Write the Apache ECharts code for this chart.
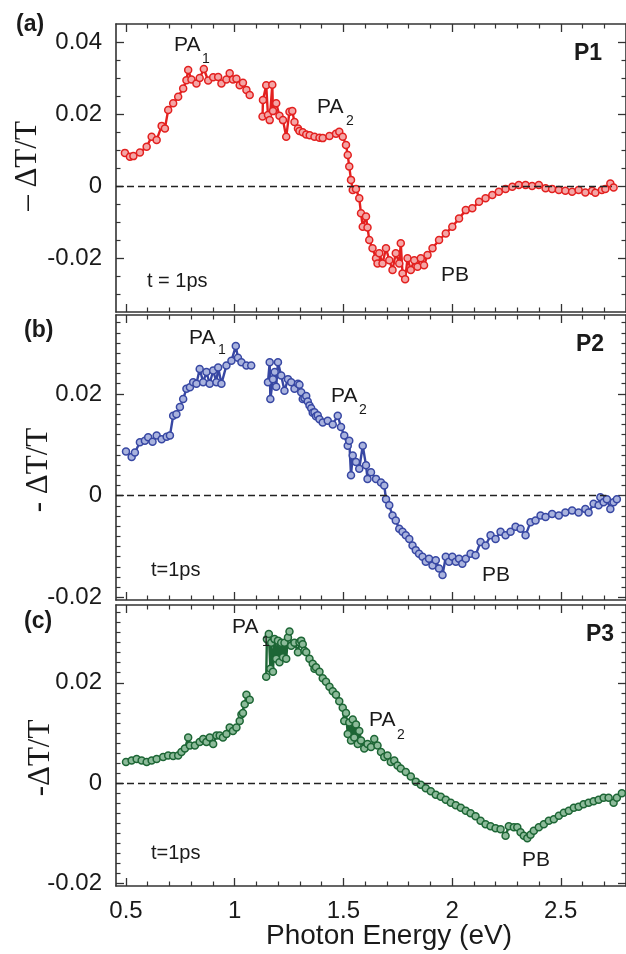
<!DOCTYPE html>
<html>
<head>
<meta charset="utf-8">
<script src="https://cdn.jsdelivr.net/npm/echarts@6/dist/echarts.min.js"></script>
<style>
  html, body { margin: 0; padding: 0; background: #ffffff; }
  #chart { width: 626px; height: 954px; }
</style>
</head>
<body>
<div id="chart"></div>
<script>
// Transient absorption spectra at t = 1 ps for P1, P2, P3 (photon energy in eV vs -ΔT/T)

const energyA = [0.495,0.518,0.534,0.564,0.595,0.618,0.641,0.664,0.679,0.694,
  0.717,0.74,0.763,0.778,0.786,0.801,0.824,0.839,0.858,0.878,
  0.901,0.924,0.939,0.962,0.977,0.992,1.008,1.023,1.038,1.054,
  1.069,1.1,1.128,1.13,1.145,1.153,1.161,1.173,1.176,1.191,
  1.206,1.222,1.237,1.252,1.265,1.275,1.291,1.298,1.313,1.329,
  1.345,1.367,1.39,1.405,1.436,1.466,1.481,1.497,1.512,1.52,
  1.527,1.535,1.543,1.558,1.573,1.581,1.589,1.604,1.611,1.619,
  1.634,1.65,1.657,1.665,1.68,1.696,1.711,1.726,1.741,1.757,
  1.764,1.772,1.784,1.795,1.81,1.826,1.841,1.856,1.871,1.887,
  1.91,1.94,1.971,2.001,2.032,2.063,2.093,2.124,2.154,2.185,
  2.215,2.246,2.277,2.307,2.338,2.368,2.399,2.43,2.46,2.491,
  2.521,2.552,2.582,2.613,2.644,2.659,2.689,2.705,2.728,2.743];
const signalA = [0.0092,0.0081,0.0083,0.0093,0.0109,0.0137,0.0128,0.0167,0.016,0.0211,
  0.023,0.0248,0.0271,0.0294,0.0322,0.0296,0.0285,0.030,0.0325,0.0293,
  0.0302,0.0303,0.0285,0.0296,0.0313,0.0296,0.0298,0.028,0.0287,0.0267,
  0.0253,null,0.0193,0.0239,0.028,0.0197,0.0183,0.0281,0.0208,0.023,
  0.0195,0.0183,0.0137,0.0206,0.0208,0.0178,0.016,0.0153,0.0149,0.0143,
  0.0141,0.0137,0.0134,0.0133,0.0139,0.0145,0.0151,0.0137,0.0114,0.0086,
  0.0054,0.0017,-0.0011,-0.0008,-0.0034,-0.0076,-0.0113,-0.0085,-0.0115,-0.015,
  -0.0173,-0.0201,-0.0215,-0.0187,-0.0215,-0.0173,-0.0206,-0.0233,-0.0187,-0.0215,
  -0.0159,-0.0243,-0.0259,-0.0201,-0.0233,-0.0206,-0.0224,-0.0201,-0.022,-0.0192,
  -0.0173,-0.015,-0.0132,-0.0113,-0.009,-0.0067,-0.0062,-0.0044,-0.0034,-0.0025,
  -0.0016,-0.0008,-0.0002,0.0003,0.0003,0,0.0003,-0.0006,-0.0008,-0.0011,
  -0.0013,-0.0016,-0.0011,-0.0018,-0.0013,-0.0019,-0.0011,-0.0008,0.0007,-0.0004];

const energyB = [0.5,0.526,0.541,0.564,0.587,0.602,0.622,0.641,0.664,0.687,
  0.702,0.717,0.732,0.748,0.763,0.778,0.794,0.809,0.824,0.839,
  0.855,0.87,0.885,0.901,0.916,0.924,0.939,0.962,0.985,1.005,
  1.015,1.031,1.054,1.076,1.11,
  1.153,1.161,1.164,1.176,1.184,
  1.191,1.199,1.214,1.229,1.245,1.26,1.275,1.291,1.298,1.306,
  1.313,1.321,1.329,1.336,1.344,1.352,1.359,1.367,1.374,1.382,
  1.39,1.405,1.428,1.451,1.474,1.489,1.504,1.52,1.527,1.535,
  1.543,1.558,1.573,1.589,1.604,1.611,1.627,1.65,1.673,1.688,
  1.696,1.711,1.726,1.741,1.757,1.772,1.787,1.803,1.818,1.833,
  1.848,1.864,1.879,1.894,1.91,1.925,1.94,1.956,1.971,1.986,
  2.001,2.017,2.032,2.047,2.063,2.085,2.108,2.131,2.154,2.177,
  2.2,2.223,2.246,2.269,2.292,2.315,2.338,2.361,2.384,2.407,
  2.43,2.46,2.491,2.521,2.552,2.582,2.613,2.628,2.651,2.674,
  2.682,2.697,2.712,2.728,2.743,2.758];
const signalB = [0.0087,0.0076,0.0085,0.0105,0.0108,0.0115,0.0106,0.0118,0.0111,0.0116,
  0.0118,0.0157,0.016,0.0174,0.019,0.021,0.0213,0.0223,0.022,0.0249,
  0.0223,0.0243,0.022,0.0246,0.0223,0.0252,0.022,0.0256,0.0265,0.0294,
  0.0271,0.0262,0.0256,0.0256,null,
  0.0223,0.0262,0.019,0.0229,0.0243,
  0.0214,0.0262,0.0236,0.0206,0.0229,0.0223,0.021,0.022,0.0218,0.0203,
  0.019,0.0192,0.0196,0.0185,0.0177,0.0172,0.0163,0.0164,0.0156,0.0158,
  0.015,0.0144,0.0147,0.014,0.0157,0.0135,0.0118,0.0098,0.0108,0.004,
  0.0079,0.0066,0.0053,0.0098,0.006,0.0033,0.0046,0.0033,0.0026,0.002,
  -0.0007,-0.0019,-0.0039,-0.0049,-0.0065,-0.0071,-0.0078,-0.0085,-0.0098,-0.0107,
  -0.0114,-0.012,-0.013,-0.0124,-0.0137,-0.0127,-0.0143,-0.0156,-0.012,-0.013,
  -0.012,-0.013,-0.0124,-0.0134,-0.0124,-0.0114,-0.0117,-0.0091,-0.0098,-0.0078,
  -0.0085,-0.0071,-0.0078,-0.0071,-0.0061,-0.0065,-0.0078,-0.0052,-0.0049,-0.0039,
  -0.0042,-0.0036,-0.0039,-0.0033,-0.0029,-0.0033,-0.0026,-0.0033,-0.0016,-0.0019,
  -0.0003,-0.0013,-0.0007,-0.0026,-0.0013,-0.0007];

const energyC = [0.5,0.526,0.549,0.572,0.595,0.618,0.641,0.671,0.694,0.717,
  0.74,0.755,0.771,0.786,0.794,0.817,0.839,0.855,0.87,0.885,
  0.901,0.916,0.931,0.946,0.962,0.977,0.992,1.008,1.023,1.031,
  1.038,1.046,1.054,1.069,1.1,
  1.145,1.148,1.157,1.164,1.168,
  1.176,1.183,1.191,1.199,1.206,1.214,1.222,1.229,1.237,1.245,
  1.252,1.26,1.275,1.291,1.298,1.306,1.313,1.321,1.329,1.344,
  1.359,1.367,1.374,1.39,1.405,1.42,1.436,1.451,1.466,1.481,
  1.497,1.504,1.512,1.52,1.527,1.535,1.543,1.55,1.558,1.566,
  1.573,1.581,1.596,1.611,1.627,1.642,1.657,1.673,1.688,1.703,
  1.718,1.734,1.749,1.764,1.787,1.81,1.833,1.856,1.879,1.902,
  1.925,1.948,1.971,1.994,2.017,2.04,2.063,2.085,2.108,2.131,
  2.154,2.177,2.2,2.223,2.246,2.261,2.284,2.3,2.315,2.33,
  2.346,2.361,2.376,2.399,2.422,2.445,2.468,2.491,2.514,2.537,
  2.56,2.582,2.605,2.628,2.651,2.674,2.697,2.72,2.743,2.758,
  2.781];
const signalC = [0.0042,0.0045,0.0048,0.0045,0.0042,0.0045,0.0048,0.0052,0.0055,0.0054,
  0.0055,0.0062,0.0069,0.0091,0.0075,0.0075,0.0082,0.0088,0.0082,0.0091,
  0.0078,0.0095,0.0095,0.0091,0.0098,0.0111,0.0104,0.0111,0.0124,0.0137,
  0.014,0.0157,0.0176,0.0166,null,
  0.0212,0.0287,0.0297,0.0228,0.028,
  0.0222,0.0287,0.0248,0.0284,0.0241,0.028,0.0251,0.028,0.0248,0.029,
  0.0302,0.0274,0.028,0.0261,0.0281,0.0284,0.0277,0.0264,0.0261,0.0248,
  0.0238,0.0228,0.0231,0.0222,0.0209,0.0202,0.0192,0.0183,0.0176,0.0163,
  0.015,0.0124,0.014,0.0098,0.0121,0.0085,0.0127,0.0091,0.0117,0.0078,
  0.0104,0.0085,0.0069,0.0078,0.0072,0.0088,0.0075,0.0062,0.0052,0.0055,
  0.0042,0.0045,0.0035,0.0029,0.0022,0.0013,0.0003,-0.0003,-0.001,-0.0016,
  -0.0023,-0.0027,-0.0033,-0.0039,-0.0044,-0.0049,-0.0055,-0.006,-0.0066,-0.0075,
  -0.0082,-0.0086,-0.009,-0.0092,-0.0105,-0.0086,-0.0088,-0.0088,-0.0098,-0.0105,
  -0.011,-0.0103,-0.0095,-0.0088,-0.0082,-0.0075,-0.0072,-0.0065,-0.0059,-0.0055,
  -0.0049,-0.0047,-0.0042,-0.0039,-0.0036,-0.0033,-0.0029,-0.0029,-0.0039,-0.0029,
  -0.002];

// Axis ticks and labels
const xTickLabels = [0.5, 1, 1.5, 2, 2.5];
const yTickLabelsA = [-0.02, 0, 0.02, 0.04];
const yTickLabelsBC = [-0.02, 0, 0.02];
const panelNames = ['P1', 'P2', 'P3'];
const panelTags = ['(a)', '(b)', '(c)'];
const zeroLineEnd = [2.735, 2.71, 2.72];

const X_MIN = 0.454, X_MAX = 2.8;
const INK = '#333333';
const SANS = '"Liberation Sans", Arial, sans-serif';
const SERIF = '"Liberation Serif", "Times New Roman", serif';

function steps(from, to, step, skip) {
  const out = [];
  for (let v = from; v <= to + 1e-9; v += step) {
    const r = Math.round(v * 1e6) / 1e6;
    if (!skip.some(s => Math.abs(s - r) < 1e-9)) out.push(r);
  }
  return out;
}
const xMinor = steps(0.5, 2.8, 0.1, xTickLabels);

const panels = [
  { energy: energyA, signal: signalA, color: '#e3201f', fill: '#f4a6a6',
    grid: { left: 116, top: 24, width: 511, height: 288 },
    yMin: -0.035, yMax: 0.045, yMajor: yTickLabelsA,
    yMinor: steps(-0.03, 0.04, 0.005, yTickLabelsA) },
  { energy: energyB, signal: signalB, color: '#3747a3', fill: '#a9b3de',
    grid: { left: 116, top: 315, width: 511, height: 285 },
    yMin: -0.0205, yMax: 0.0355, yMajor: yTickLabelsBC,
    yMinor: steps(-0.018, 0.034, 0.002, yTickLabelsBC) },
  { energy: energyC, signal: signalC, color: '#1d6635', fill: '#8dbb9a',
    grid: { left: 116, top: 605, width: 511, height: 281 },
    yMin: -0.0205, yMax: 0.0355, yMajor: yTickLabelsBC,
    yMinor: steps(-0.018, 0.034, 0.002, yTickLabelsBC) }
];

const fmtY = v => (Math.abs(v) < 1e-12 ? '0' : String(+v.toFixed(3)));

const grid = [], xAxis = [], yAxis = [], series = [];
panels.forEach((p, gi) => {
  grid.push(p.grid);
  const isLast = gi === panels.length - 1;
  const base = { type: 'value', gridIndex: gi, min: X_MIN, max: X_MAX, splitLine: { show: false } };
  ['bottom', 'top'].forEach(pos => {
    xAxis.push(Object.assign({}, base, {
      position: pos,
      axisLine: { show: true, onZero: false, lineStyle: { color: INK, width: 1.6 } },
      axisTick: { show: true, inside: true, length: 8, customValues: xTickLabels, lineStyle: { color: INK, width: 1.3 } },
      axisLabel: { show: isLast && pos === 'bottom', customValues: xTickLabels, margin: 13,
        color: '#1a1a1a', fontFamily: SANS, fontSize: 24, formatter: v => String(v) }
    }));
    xAxis.push(Object.assign({}, base, {
      position: pos,
      axisLine: { show: false, onZero: false },
      axisTick: { show: true, inside: true, length: 4.5, customValues: xMinor, lineStyle: { color: INK, width: 1.2 } },
      axisLabel: { show: false }
    }));
  });
  const ybase = { type: 'value', gridIndex: gi, min: p.yMin, max: p.yMax, splitLine: { show: false } };
  ['left', 'right'].forEach(pos => {
    yAxis.push(Object.assign({}, ybase, {
      position: pos,
      axisLine: { show: true, onZero: false, lineStyle: { color: INK, width: 1.6 } },
      axisTick: { show: true, inside: true, length: 8, customValues: p.yMajor, lineStyle: { color: INK, width: 1.3 } },
      axisLabel: { show: pos === 'left', customValues: p.yMajor, margin: 14,
        color: '#1a1a1a', fontFamily: SANS, fontSize: 24, formatter: fmtY }
    }));
    yAxis.push(Object.assign({}, ybase, {
      position: pos,
      axisLine: { show: false, onZero: false },
      axisTick: { show: true, inside: true, length: 4.5, customValues: p.yMinor, lineStyle: { color: INK, width: 1.2 } },
      axisLabel: { show: false }
    }));
  });

  const data = p.energy.map((e, i) => [e, p.signal[i] === null ? '-' : p.signal[i]]);
  series.push({
    type: 'line',
    xAxisIndex: gi * 4,
    yAxisIndex: gi * 4,
    data: data,
    connectNulls: false,
    symbol: 'circle',
    symbolSize: 7,
    showAllSymbol: true,
    lineStyle: { color: p.color, width: 2.4 },
    itemStyle: { color: p.fill, borderColor: p.color, borderWidth: 1.5 },
    emphasis: { disabled: true },
    animation: false,
    markLine: {
      silent: true,
      symbol: 'none',
      label: { show: false },
      lineStyle: { type: [7, 4], color: '#222222', width: 1.3 },
      data: [[{ coord: [X_MIN, 0] }, { coord: [zeroLineEnd[gi], 0] }]]
    }
  });
});

function txt(text, x, y, size, opts) {
  opts = opts || {};
  return {
    type: 'text', x: x, y: y, z: 100, rotation: opts.rotation || 0, silent: true,
    style: {
      text: text, fill: '#1a1a1a',
      font: (opts.bold ? 'bold ' : '') + size + 'px ' + (opts.family || SANS),
      textAlign: opts.align || 'left', textVerticalAlign: 'middle'
    }
  };
}

const graphic = [
  // panel tags and sample names
  txt(panelTags[0], 16, 25, 23, { bold: true }),
  txt(panelTags[1], 24, 331, 23, { bold: true }),
  txt(panelTags[2], 24, 622, 23, { bold: true }),
  txt(panelNames[0], 574, 54, 23, { bold: true }),
  txt(panelNames[1], 576, 345, 23, { bold: true }),
  txt(panelNames[2], 586, 635, 23, { bold: true }),
  // band annotations, panel (a)
  txt('PA', 174, 45, 21), txt('1', 202, 59, 14),
  txt('PA', 317, 107, 21), txt('2', 346, 121, 14),
  txt('PB', 441, 275, 21),
  txt('t = 1ps', 147, 281, 20),
  // panel (b)
  txt('PA', 189, 338, 21), txt('1', 218, 350, 14),
  txt('PA', 331, 396, 21), txt('2', 359, 410, 14),
  txt('PB', 482, 575, 21),
  txt('t=1ps', 151, 570, 20),
  // panel (c)
  txt('PA', 232, 627, 21), txt('1', 262, 642, 14),
  txt('PA', 369, 720, 21), txt('2', 397, 735, 14),
  txt('PB', 522, 860, 21),
  txt('t=1ps', 151, 853, 20),
  // axis titles
  txt('\u2013 \u0394T/T', 28, 166, 31, { family: SERIF, align: 'center', rotation: Math.PI / 2 }),
  txt('- \u0394T/T', 39, 470, 31, { family: SERIF, align: 'center', rotation: Math.PI / 2 }),
  txt('-\u0394T/T', 41, 758, 31, { family: SERIF, align: 'center', rotation: Math.PI / 2 }),
  txt('Photon Energy (eV)', 389, 936, 28, { align: 'center' })
];

const chart = echarts.init(document.getElementById('chart'), null, { renderer: 'canvas' });
chart.setOption({
  backgroundColor: '#ffffff',
  animation: false,
  grid: grid,
  xAxis: xAxis,
  yAxis: yAxis,
  series: series,
  graphic: graphic
});
</script>
</body>
</html>
